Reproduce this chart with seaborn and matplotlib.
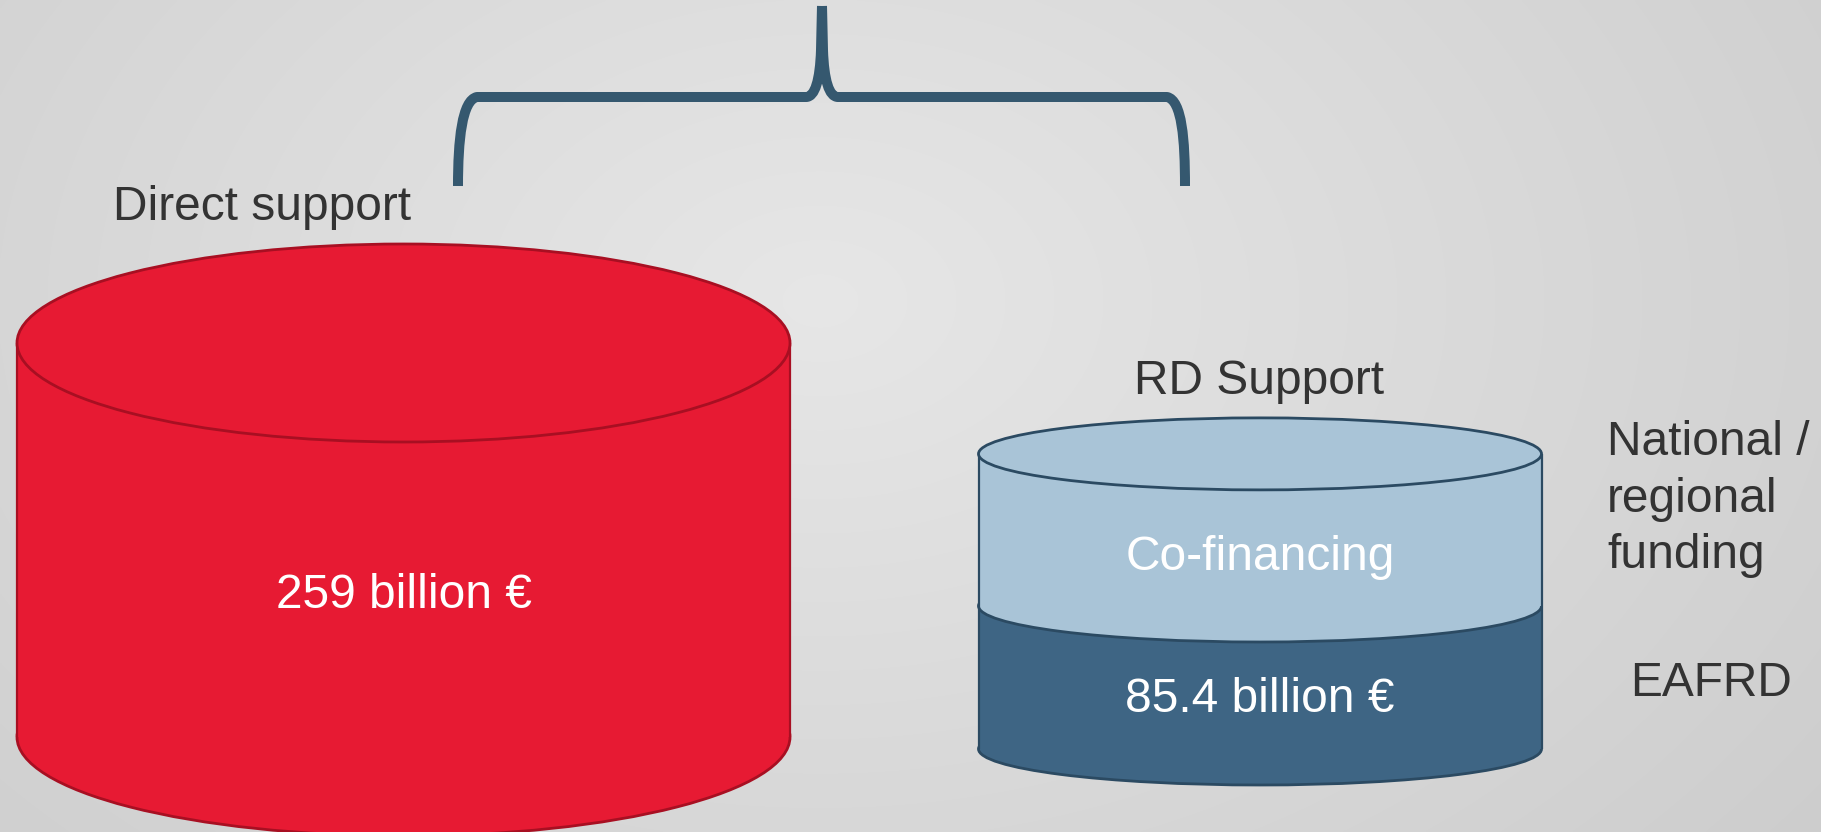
import numpy as np
import matplotlib
matplotlib.use("Agg")
import matplotlib.pyplot as plt
import matplotlib.transforms as mtransforms
import seaborn as sns
from matplotlib.patches import Ellipse, PathPatch
from matplotlib.path import Path

# ---------------- data ----------------
programmes = ["Direct support", "RD Support"]
base_values = [259, 94]            # Direct support body, EAFRD segment (as drawn)
base_labels = ["259 billion €", "85.4 billion €"]
top_programme = ["RD Support"]
top_values = [100]                 # co-financing segment (as drawn)
top_labels = ["Co-financing"]
side_labels = ["National /\nregional\nfunding", "EAFRD"]

# ---------------- style ----------------
W, H, DPI = 1821, 832, 100
RED, RED_EDGE = "#E71A33", "#A80F22"
DARK, LIGHT, BLUE_EDGE = "#3E6584", "#A9C4D7", "#2B4A62"
BRACE = "#35586F"
TXT = "#333333"
FS = 34.5

sns.set_theme(style="white")
plt.rcParams["font.family"] = ["Liberation Sans", "DejaVu Sans"]

fig = plt.figure(figsize=(W / DPI, H / DPI), dpi=DPI)

# background radial gradient
bg = fig.add_axes([0, 0, 1, 1], zorder=0)
yy, xx = np.mgrid[0:H:2, 0:W:2]
d = np.sqrt(((xx - 820) / 1000.0) ** 2 + ((yy - 300) / 700.0) ** 2)
val = np.clip(0.905 - 0.08 * d, 0, 1)
bg.imshow(np.dstack([val, val, val]), extent=[0, W, H, 0], aspect="auto", interpolation="bilinear")
bg.set_xlim(0, W)
bg.set_ylim(H, 0)
bg.set_axis_off()

# main axes in data units
ax = fig.add_axes([0, 0, 1, 1], zorder=1)
ax.patch.set_alpha(0)

PX_X = 856.5          # pixels per category step
X0 = 403.5            # pixel of category 0
PX_Y = 394 / 259.0    # pixels per value unit
Y0 = 743.0            # pixel of value 0

widths = [773 / PX_X, 563 / PX_X]
bases = [(Y0 - 737) / PX_Y, (Y0 - 749) / PX_Y]
cap_h = [2 * 99 / PX_Y, 2 * 36 / PX_Y]
edges = [RED_EDGE, BLUE_EDGE]

n0 = len(ax.patches)
sns.barplot(x=programmes, y=base_values, hue=programmes, palette=[RED, DARK],
            saturation=1, legend=False, errorbar=None, ax=ax, linewidth=0, zorder=3)
for p in ax.patches[n0:]:
    c = p.get_x() + p.get_width() / 2
    i = int(round(c))
    p.set_x(i - widths[i] / 2)
    p.set_width(widths[i])
    p.set_y(bases[i])

n1 = len(ax.patches)
sns.barplot(x=top_programme, y=top_values, order=programmes, color=LIGHT,
            saturation=1, errorbar=None, ax=ax, linewidth=0, zorder=5)
for p in ax.patches[n1:]:
    c = p.get_x() + p.get_width() / 2
    i = int(round(c))
    p.set_x(i - widths[i] / 2)
    p.set_width(widths[i])
    p.set_y(bases[i] + base_values[i])

# cylinder caps and sides
for i, prog in enumerate(programmes):
    w = widths[i]
    b = bases[i]
    col = RED if i == 0 else DARK
    ax.add_patch(Ellipse((i, b), w, cap_h[i], fc=col, ec=edges[i], lw=2, zorder=2))
    top = b + base_values[i]
    if prog in top_programme:
        j = top_programme.index(prog)
        ax.add_patch(Ellipse((i, top), w, cap_h[i], fc=LIGHT, ec=edges[i], lw=2, zorder=4))
        top = top + top_values[j]
        ax.add_patch(Ellipse((i, top), w, cap_h[i], fc=LIGHT, ec=edges[i], lw=2, zorder=7))
    else:
        ax.add_patch(Ellipse((i, top), w, cap_h[i], fc=col, ec=edges[i], lw=2, zorder=7))
    for sx in (i - w / 2, i + w / 2):
        ax.plot([sx, sx], [b, top], color=edges[i], lw=1.6, zorder=6, solid_capstyle="butt")

# labels inside cylinders
ax.text(0, (Y0 - 596) / PX_Y, base_labels[0], ha="center", va="center", color="white", fontsize=FS, zorder=10)
ax.text(1, (Y0 - 699) / PX_Y, base_labels[1], ha="center", va="center", color="white", fontsize=FS, zorder=10)
ax.text(1, (Y0 - 557) / PX_Y, top_labels[0], ha="center", va="center", color="white", fontsize=FS, zorder=10)

ax.set_xlim(-X0 / PX_X, (W - X0) / PX_X)
ax.set_ylim((Y0 - H) / PX_Y, Y0 / PX_Y)
ax.set_axis_off()

# figure-pixel helpers
def fx(x):
    return x / W

def fy(y):
    return 1 - y / H

fig.text(fx(113), fy(207), programmes[0], ha="left", va="center", color=TXT, fontsize=FS)
fig.text(fx(1259), fy(382), programmes[1], ha="center", va="center", color=TXT, fontsize=FS)
fig.text(fx(1607), fy(499), side_labels[0], ha="left", va="center", color=TXT, fontsize=FS, linespacing=1.33)
fig.text(fx(1630), fy(684), side_labels[1], ha="left", va="center", color=TXT, fontsize=FS)

# curly brace
verts = [(458, 186), (458, 140), (462, 100), (477, 97), (806, 97),
         (815, 97), (820, 80), (821, 50), (822, 6),
         (822, 6), (823, 50), (824, 80), (829, 97), (838, 97),
         (1167, 97), (1182, 100), (1185, 140), (1185, 186)]
codes = [Path.MOVETO, Path.CURVE4, Path.CURVE4, Path.CURVE4, Path.LINETO,
         Path.CURVE4, Path.CURVE4, Path.CURVE4, Path.LINETO,
         Path.MOVETO, Path.LINETO, Path.CURVE4, Path.CURVE4, Path.CURVE4,
         Path.LINETO, Path.CURVE4, Path.CURVE4, Path.CURVE4]
tr = mtransforms.Affine2D().scale(1.0 / W, -1.0 / H).translate(0, 1) + fig.transFigure
fig.add_artist(PathPatch(Path(verts, codes), transform=tr, fill=False, ec=BRACE,
                         lw=7.2, capstyle="butt", joinstyle="round", zorder=5))

fig.savefig("out.png", dpi=DPI)
